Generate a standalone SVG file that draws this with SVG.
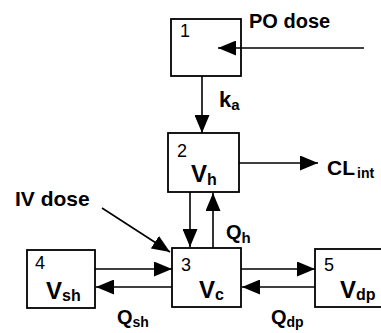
<svg xmlns="http://www.w3.org/2000/svg" width="381" height="333" viewBox="0 0 381 333">
<style>
.box{fill:#fff;stroke:#000;stroke-width:1.8}
.ln{stroke:#000;stroke-width:1.6;fill:none}
.num{font-family:"Liberation Sans",Arial,sans-serif;font-size:18px;fill:#000}
.lab{font-family:"Liberation Sans",Arial,sans-serif;font-weight:bold;fill:#000}
</style>
<defs>
<marker id="ah" markerUnits="userSpaceOnUse" viewBox="0 0 18 15" refX="18" refY="7.5" markerWidth="18" markerHeight="15" orient="auto">
<path d="M0,0 L18,7.5 L0,15 z" fill="#000"/>
</marker>
</defs>
<rect width="381" height="333" fill="#fff"/>
<g id="node1">
<rect class="box" x="171" y="19" width="70" height="57"/>
<text class="num" x="180" y="37" font-size="16">1</text>
</g>
<g id="node2">
<rect class="box" x="168" y="133" width="71" height="59"/>
<text class="num" x="177" y="157">2</text>
<text class="lab" x="191" y="182" font-size="24">V<tspan font-size="16" dy="3">h</tspan></text>
</g>
<g id="node3">
<rect class="box" x="172" y="248" width="69" height="59"/>
<text class="num" x="181" y="271">3</text>
<text class="lab" x="199" y="298" font-size="24">V<tspan font-size="16" dy="2">c</tspan></text>
</g>
<g id="node4">
<rect class="box" x="27" y="250" width="68" height="58"/>
<text class="num" x="35" y="269">4</text>
<text class="lab" x="46" y="299" font-size="24">V<tspan font-size="16" dy="2">sh</tspan></text>
</g>
<g id="node5">
<rect class="box" x="315" y="249" width="80" height="58"/>
<text class="num" x="324" y="271">5</text>
<text class="lab" x="340" y="298" font-size="24">V<tspan font-size="16" dy="2">dp</tspan></text>
</g>
<g id="connectors">
<line class="ln" x1="364" y1="48" x2="218" y2="48" marker-end="url(#ah)"/>
<line class="ln" x1="202" y1="76" x2="202" y2="133" marker-end="url(#ah)"/>
<line class="ln" x1="239" y1="163" x2="318" y2="163" marker-end="url(#ah)"/>
<line class="ln" x1="190" y1="192" x2="190" y2="247" marker-end="url(#ah)"/>
<line class="ln" x1="213" y1="248" x2="213" y2="193" marker-end="url(#ah)"/>
<line class="ln" x1="102" y1="208" x2="170" y2="252" marker-end="url(#ah)"/>
<line class="ln" x1="95" y1="269" x2="172" y2="269" marker-end="url(#ah)"/>
<line class="ln" x1="172" y1="287" x2="96" y2="287" marker-end="url(#ah)"/>
<line class="ln" x1="241" y1="269" x2="315" y2="269" marker-end="url(#ah)"/>
<line class="ln" x1="315" y1="287" x2="242" y2="287" marker-end="url(#ah)"/>
<text class="lab" x="219" y="107" font-size="22">k<tspan font-size="15" dy="3">a</tspan></text>
<text class="lab" x="327" y="175" font-size="21">CL<tspan font-size="14" dx="2" dy="3">int</tspan></text>
<text class="lab" x="226" y="239" font-size="20">Q<tspan font-size="15" dy="4">h</tspan></text>
<text class="lab" x="117" y="324" font-size="20">Q<tspan font-size="14" dy="3">sh</tspan></text>
<text class="lab" x="271" y="324" font-size="20">Q<tspan font-size="14" dy="3">dp</tspan></text>
<text class="lab" x="249" y="28" font-size="20">PO dose</text>
<text class="lab" x="15" y="206" font-size="21">IV dose</text>
</g>
</svg>
